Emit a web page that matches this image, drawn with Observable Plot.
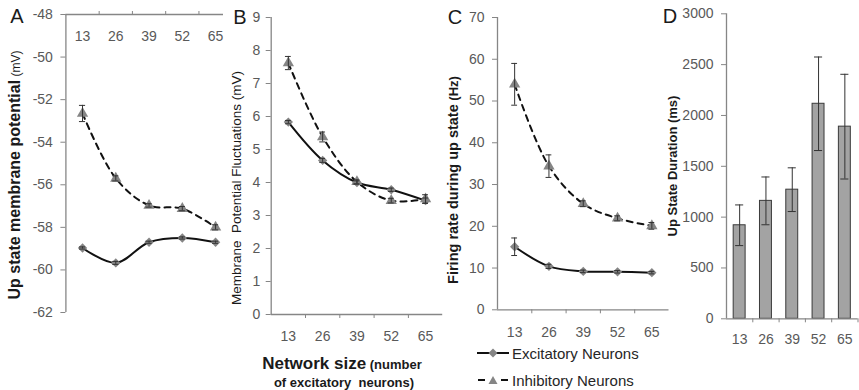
<!DOCTYPE html>
<html><head><meta charset="utf-8">
<script src="https://cdn.jsdelivr.net/npm/d3@7"></script>
<script src="https://cdn.jsdelivr.net/npm/@observablehq/plot@0.6"></script>
<style>
body{margin:0;background:#fff;font-family:Arial,"Liberation Sans",sans-serif;}
#wrap{position:relative;width:859px;height:390px;overflow:hidden;background:#fff;}
.t{position:absolute;white-space:nowrap;color:#1a1a1a;line-height:1;}
.c{transform:translate(-50%,-50%);}
.rot{transform:translate(-50%,-50%) rotate(-90deg);}
</style></head><body><div id="wrap"></div>
<script>
// ---- data ----
const sizes = [13, 26, 39, 52, 65];
const bandEdges = [19.5, 32.5, 45.5, 58.5];
// A: up state membrane potential (mV)
const aTicks = [-62, -60, -58, -56, -54, -52, -50, -48];
const aExc = [-58.97, -59.67, -58.7, -58.5, -58.7];
const aExcErr = [0.05, 0.07, 0.05, 0.05, 0.05];
const aInh = [-52.65, -55.7, -56.97, -57.12, -58.0];
const aInhErr = [0.38, 0.12, 0.08, 0.1, 0.12];
// B: membrane potential fluctuations (mV)
const bTicks = [0, 1, 2, 3, 4, 5, 6, 7, 8, 9];
const bExc = [5.83, 4.67, 4.0, 3.78, 3.45];
const bExcErr = [0.05, 0.06, 0.05, 0.05, 0.08];
const bInh = [7.62, 5.38, 4.02, 3.45, 3.5];
const bInhErr = [0.2, 0.15, 0.06, 0.07, 0.13];
// C: firing rate during up state (Hz)
const cTicks = [0, 10, 20, 30, 40, 50, 60, 70];
const cExc = [15.1, 10.4, 9.2, 9.1, 8.9];
const cExcErr = [2.1, 0.5, 0.3, 0.3, 0.3];
const cInh = [54, 34.4, 25.4, 21.9, 20.1];
const cInhErr = [5, 2.7, 0.7, 0.6, 0.8];
// D: up state duration (ms)
const dTicks = [0, 500, 1000, 1500, 2000, 2500, 3000];
const dDur = [920, 1160, 1270, 2115, 1890];
const dErr = [200, 235, 215, 460, 515];

const axisCol = "#868686", tickText = "#595959", font = "Arial, 'Liberation Sans', sans-serif";
const fs = 14;
const wrap = document.getElementById("wrap");

function rows(vals, errs) { return sizes.map((s, i) => ({size: s, v: vals[i], e: errs[i]})); }

function place(svg, left) {
  svg.style.position = "absolute"; svg.style.left = left + "px"; svg.style.top = "0px";
  wrap.appendChild(svg);
}

function errMarks(data, c) {
  return [
    Plot.ruleX(data, {x: "size", y1: d => d.v - d.e, y2: d => d.v + d.e, stroke: "#333", strokeWidth: 1}),
    Plot.ruleY(data, {y: d => d.v + d.e, x1: d => d.size - c, x2: d => d.size + c, stroke: "#333", strokeWidth: 1}),
    Plot.ruleY(data, {y: d => d.v - d.e, x1: d => d.size - c, x2: d => d.size + c, stroke: "#333", strokeWidth: 1})
  ];
}

function linePanel(o) {
  const ex = rows(o.exc, o.excErr), ih = rows(o.inh, o.inhErr);
  const marks = [
    Plot.ruleX([o.xDomain[0]], {stroke: axisCol, strokeWidth: 1.3}),
    Plot.ruleY([o.top ? o.yDomain[1] : o.yDomain[0]], {stroke: axisCol, strokeWidth: 1.3}),
    Plot.axisY({ticks: o.yTicks, tickSize: 5, tickPadding: o.tp, tickFormat: d => String(d), stroke: axisCol, fill: tickText, fontSize: fs, label: null}),
    Plot.axisX({anchor: o.top ? "top" : "bottom", ticks: bandEdges, tickSize: 4, tickFormat: () => "", stroke: axisCol, label: null}),
    o.top
      ? Plot.text(sizes, {x: d => d, text: d => String(d), frameAnchor: "top", dy: 17, fill: tickText, fontSize: fs})
      : Plot.axisX({anchor: "bottom", ticks: sizes, tickSize: 0, tickPadding: o.xp, tickFormat: d => String(d), fill: tickText, fontSize: fs, label: null}),
    Plot.line(ih, {x: "size", y: "v", stroke: "#111", strokeWidth: 2, strokeDasharray: "6,5", curve: "catmull-rom"}),
    Plot.line(ex, {x: "size", y: "v", stroke: "#111", strokeWidth: 2, curve: "catmull-rom"}),
    Plot.dot(ih, {x: "size", y: "v", symbol: "triangle", r: 4.2, fill: "#858585", stroke: "none"}),
    Plot.dot(ex, {x: "size", y: "v", symbol: "diamond2", r: 4.2, fill: "#858585", stroke: "none"}),
    ...errMarks(ih, o.cap), ...errMarks(ex, o.cap)
  ];
  return Plot.plot({
    width: o.width, height: o.height,
    marginLeft: o.ml, marginRight: o.mr, marginTop: o.mt, marginBottom: o.mb,
    x: {type: "linear", domain: o.xDomain, axis: null},
    y: {domain: o.yDomain, axis: null},
    style: {fontFamily: font, background: "transparent", overflow: "visible", color: tickText},
    marks
  });
}

place(linePanel({width: 230, height: 330, ml: 65.4, mr: 7, mt: 14, mb: 18, xDomain: [6.5, 68.1], yDomain: [-62, -48],
  yTicks: aTicks, exc: aExc, excErr: aExcErr, inh: aInh, inhErr: aInhErr, top: true, tp: 8, cap: 1.2}), 0);
place(linePanel({width: 220, height: 345, ml: 40.7, mr: 7.8, mt: 17, mb: 31, xDomain: [6.5, 71.5], yDomain: [0, 9],
  yTicks: bTicks, exc: bExc, excErr: bExcErr, inh: bInh, inhErr: bInhErr, top: false, tp: 6, xp: 16.5, cap: 1.1}), 230);
place(linePanel({width: 225, height: 345, ml: 47, mr: 6.5, mt: 17, mb: 35.7, xDomain: [6.5, 71.5], yDomain: [0, 70],
  yTicks: cTicks, exc: cExc, excErr: cExcErr, inh: cInh, inhErr: cInhErr, top: false, tp: 8, xp: 17, cap: 1.1}), 450);

// D: bar chart
const dRows = rows(dDur, dErr);
place(Plot.plot({
  width: 184, height: 345, marginLeft: 51, marginRight: 1.5, marginTop: 13.3, marginBottom: 26.7,
  x: {type: "linear", domain: [6.5, 71.5], axis: null},
  y: {domain: [0, 3000], axis: null},
  style: {fontFamily: font, background: "transparent", overflow: "visible", color: tickText},
  marks: [
    Plot.rectY(dRows, {x1: d => d.size - 2.95, x2: d => d.size + 2.95, y: "v", fill: "#a3a3a3", stroke: "#3a3a3a", strokeWidth: 1}),
    Plot.ruleX([6.5], {stroke: axisCol, strokeWidth: 1.3}),
    Plot.ruleY([0], {stroke: axisCol, strokeWidth: 1.3}),
    Plot.axisY({ticks: dTicks, tickSize: 5, tickPadding: 8, tickFormat: d => String(d), stroke: axisCol, fill: tickText, fontSize: fs, label: null}),
    Plot.axisX({anchor: "bottom", ticks: bandEdges.concat([71.5]), tickSize: 4, tickFormat: () => "", stroke: axisCol, label: null}),
    Plot.axisX({anchor: "bottom", ticks: sizes, tickSize: 0, tickPadding: 14.8, tickFormat: d => String(d), fill: tickText, fontSize: fs, label: null}),
    ...errMarks(dRows, 2)
  ]
}), 675);

// ---- text ----
function txt(html, x, y, cls, style) {
  const d = document.createElement("div");
  d.className = "t " + cls; d.innerHTML = html;
  d.style.left = x + "px"; d.style.top = y + "px";
  if (style) d.style.cssText += style;
  wrap.appendChild(d);
}
const letters = [["A", 17, 16], ["B", 240, 17], ["C", 455, 17], ["D", 670, 16]];
letters.forEach(([l, x, y]) => txt(l, x, y, "c", "font-size:20px;"));
txt('<b style="font-size:16px">Up state membrane potential</b><span style="font-size:12px"> (mV)</span>', 15, 175, "rot");
txt('Membrane&nbsp; Potential Fluctuations (mV)', 237, 188, "rot", "font-size:13.5px;");
txt('<b style="font-size:14.5px">Firing rate during up state</b><b style="font-size:13px"> (Hz)</b>', 453, 180, "rot");
txt('<b>Up State Duration (ms)</b>', 672, 166, "rot", "font-size:13px;");
txt('<b style="font-size:17px">Network size</b><b style="font-size:13px"> (number</b>', 342, 363, "c");
txt('<b style="font-size:13px">of excitatory&nbsp; neurons)</b>', 344, 382, "c");

// legend
const legExc = '<svg width="32" height="12" style="display:block"><line x1="0" y1="6" x2="32" y2="6" stroke="#111" stroke-width="2"/><path d="M16,1.5 L20.5,6 L16,10.5 L11.5,6Z" fill="#858585"/></svg>';
const legInh = '<svg width="32" height="12" style="display:block"><line x1="1" y1="6" x2="8" y2="6" stroke="#111" stroke-width="2"/><line x1="24" y1="6" x2="31" y2="6" stroke="#111" stroke-width="2"/><path d="M16,2 L20.5,10 L11.5,10Z" fill="#858585"/></svg>';
txt(legExc, 477, 347, "", "");
txt('Excitatory Neurons', 512, 353, "", "font-size:15px;transform:translateY(-50%);color:#262626;");
txt(legInh, 477, 374, "", "");
txt('Inhibitory Neurons', 512, 380, "", "font-size:15px;transform:translateY(-50%);color:#262626;");
</script></body></html>
